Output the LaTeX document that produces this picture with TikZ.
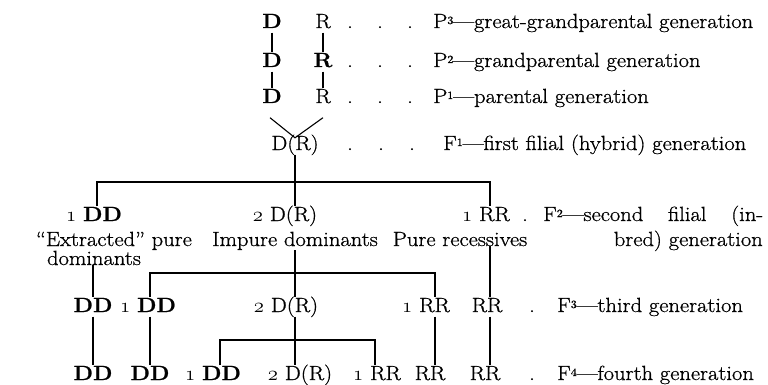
\documentclass[tikz,border=0pt]{standalone}
\usepackage{fontspec}
\setmainfont{Latin Modern Roman}[FakeStretch=1.1, FakeBold=0.8]
\newcommand\osone{{\usefont{OML}{cmm}{m}{it}1}}
\newcommand\ostwo{{\usefont{OML}{cmm}{m}{it}2}}
\newcommand\supn[1]{\raisebox{4pt}{\fontsize{11}{11}\selectfont #1}}
\begin{document}
\begin{tikzpicture}[x=1pt,y=-1pt,
  every node/.style={font=\fontsize{20.5}{24}\selectfont},
  gen/.style={anchor=base, inner sep=0.5pt, text height=14pt, text depth=4pt},
  txt/.style={anchor=base, inner sep=0pt},
  lbl/.style={anchor=base west, inner sep=0pt},
  dotn/.style={anchor=base, inner sep=0pt},
  conn/.style={line width=1.1pt}]
\useasboundingbox (0,0) rectangle (768,385);

% parental rows
\node[gen] (p3d) at (272,28) {\textbf{D}};
\node[gen] (p3r) at (323,28) {R};
\node[gen] (p2d) at (272,67) {\textbf{D}};
\node[gen] (p2r) at (323,67) {\textbf{R}};
\node[gen] (p1d) at (272,103) {\textbf{D}};
\node[gen] (p1r) at (323,103) {R};
\node[gen] (f1) at (295,150) {D(R)};

\foreach \y/\n in {28/p3,67/p2,103/p1} {
  \node[dotn] (\n dota) at (350,\y) {.};
  \node[dotn] (\n dotb) at (380,\y) {.};
  \node[dotn] (\n dotc) at (410,\y) {.};
}
\node[dotn] (f1dota) at (350,150) {.};
\node[dotn] (f1dotb) at (381,150) {.};
\node[dotn] (f1dotc) at (412,150) {.};

\node[lbl] (p3l) at (433,28) {P\supn{3}—great-grandparental generation};
\node[lbl] (p2l) at (433,67) {P\supn{2}—grandparental generation};
\node[lbl] (p1l) at (433,103) {P\supn{1}—parental generation};
\node[lbl] (f1l) at (443,150) {F\supn{1}—first filial (hybrid) generation};

\draw[conn] (p3d.south) -- (p2d.north);
\draw[conn] (p2d.south) -- (p1d.north);
\draw[conn] (p3r.south) -- (p2r.north);
\draw[conn] (p2r.south) -- (p1r.north);
\draw[conn] ([shift={(-2,10)}]p1d.south) -- ([shift={(0,2.5)}]f1.north) -- ([shift={(0,10)}]p1r.south);

% F2
\node[gen] (f2dd) at (94,221) {\osone\ \textbf{DD}};
\node[txt] (f2ex) at (114,246) {“Extracted” pure};
\node[txt] (f2dom) at (94,265) {dominants};
\node[gen] (f2dr) at (285,221) {\ostwo\ D(R)};
\node[txt] (f2imp) at (295,246) {Impure dominants};
\node[gen] (f2rr) at (486,221) {\osone\ RR};
\node[txt] (f2pure) at (460,246) {Pure recessives};
\node[dotn] (f2dot) at (525,221) {.};
\node[lbl] (f2l1) at (543,221) {\makebox[220pt][s]{F\supn{2}—second filial (in-}};
\node[txt, anchor=base east] (f2l2) at (763,246) {bred) generation};

\coordinate (bar1) at (295,182);
\draw[conn] (f1.south) -- (bar1);
\draw[conn] ([xshift=3pt]f2dd.north) |- (bar1) -| ([xshift=4pt]f2rr.north);
\draw[conn] (bar1) -- (bar1 |- f2dr.north);

% F3
\node[gen] (f3dd1) at (93,312) {\textbf{DD}};
\node[gen] (f3dd2) at (148,312) {\osone\ \textbf{DD}};
\node[gen] (f3dr) at (286,312) {\ostwo\ D(R)};
\node[gen] (f3rr1) at (426,312) {\osone\ RR};
\node[gen] (f3rr2) at (487,312) {RR};
\node[dotn] (f3dot) at (532,312) {.};
\node[lbl] (f3l) at (557,312) {F\supn{3}—third generation};

\coordinate (bar2) at (295,273);
\draw[conn] (f2imp.south) -- (bar2);
\draw[conn] ([xshift=2pt]f3dd2.north) |- (bar2) -| ([xshift=9pt]f3rr1.north);
\draw[conn] (bar2) -- (bar2 |- f3dr.north);
\draw[conn] (f2dom.south -| f3dd1.north) -- (f3dd1.north);
\draw[conn] ([xshift=3pt]f2pure.south -| f3rr2.north) -- ([xshift=3pt]f3rr2.north);

% F4
\node[gen] (f4dd1) at (93,380) {\textbf{DD}};
\node[gen] (f4dd2) at (150,380) {\textbf{DD}};
\node[gen] (f4dd3) at (213,380) {\osone\ \textbf{DD}};
\node[gen] (f4dr) at (300,380) {\ostwo\ D(R)};
\node[gen] (f4rr1) at (377,380) {\osone\ RR};
\node[gen] (f4rr2) at (430,380) {RR};
\node[gen] (f4rr3) at (485,380) {RR};
\node[dotn] (f4dot) at (532,380) {.};
\node[lbl] (f4l) at (557,380) {F\supn{4}—fourth generation};

\coordinate (bar3) at (295,340);
\draw[conn] (f3dd1.south) -- (f3dd1.south |- f4dd1.north);
\draw[conn] ([xshift=2pt]f3dd2.south) -- ([xshift=2pt]f3dd2.south |- f4dd2.north);
\draw[conn] ([xshift=9pt]f3dr.south) -- (bar3);
\draw[conn] ([xshift=7pt]f4dd3.north) |- (bar3) -| ([xshift=-2pt]f4rr1.north);
\draw[conn] (bar3) -- (bar3 |- f4dr.north);
\draw[conn] ([xshift=9pt]f3rr1.south) -- ([xshift=9pt]f3rr1.south |- f4rr2.north);
\draw[conn] ([xshift=3pt]f3rr2.south) -- ([xshift=3pt]f3rr2.south |- f4rr3.north);
\end{tikzpicture}
\end{document}
